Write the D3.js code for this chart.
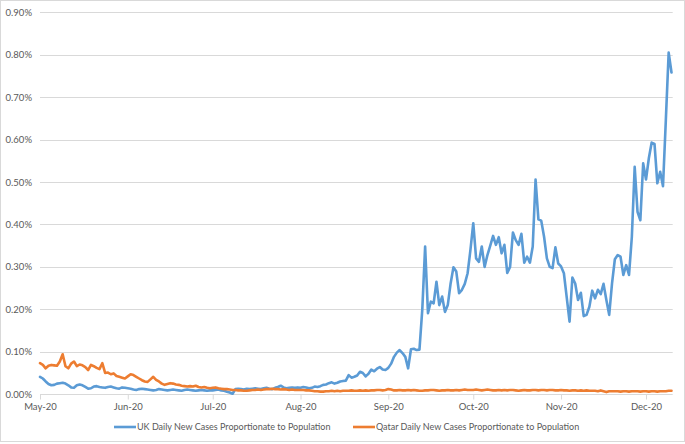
<!DOCTYPE html>
<html><head><meta charset="utf-8">
<script src="https://cdn.jsdelivr.net/npm/d3@7"></script>
<style>
html,body{margin:0;padding:0;background:#fff;}
svg{display:block;font-family:Lato,"Open Sans",sans-serif;}
</style></head>
<body><svg id="c" width="685" height="444"></svg>
<script>
// Start date of daily series
const startDate = "2020-05-01";
// UK daily new cases as % of population (May 1 .. Dec 10, 2020)
const ukValues = [
// May
0.041,0.037,0.030,0.024,0.021,0.022,0.025,0.026,0.027,0.025,0.021,0.016,0.015,0.021,0.023,0.021,0.017,0.013,0.014,0.018,0.019,0.017,0.016,0.015,0.017,0.018,0.016,0.014,0.013,0.016,0.015,
// Jun
0.014,0.013,0.011,0.010,0.012,0.013,0.012,0.011,0.010,0.009,0.010,0.012,0.011,0.010,0.009,0.010,0.011,0.010,0.009,0.008,0.010,0.011,0.010,0.009,0.008,0.009,0.010,0.009,0.008,0.009,
// Jul
0.009,0.010,0.011,0.009,0.008,0.006,0.004,0.001,0.012,0.013,0.012,0.011,0.013,0.012,0.013,0.014,0.013,0.012,0.014,0.015,0.013,0.012,0.015,0.017,0.020,0.016,0.014,0.015,0.016,0.015,0.016,
// Aug
0.015,0.017,0.016,0.014,0.015,0.018,0.017,0.019,0.022,0.023,0.026,0.028,0.025,0.027,0.030,0.031,0.032,0.045,0.039,0.041,0.044,0.053,0.050,0.042,0.048,0.058,0.054,0.060,0.064,0.058,0.057,
// Sep
0.062,0.072,0.088,0.098,0.104,0.097,0.088,0.061,0.106,0.107,0.104,0.105,0.200,0.348,0.191,0.218,0.214,0.265,0.210,0.230,0.194,0.210,0.261,0.299,0.289,0.238,0.246,0.260,0.285,0.340,
// Oct
0.403,0.320,0.312,0.348,0.300,0.328,0.350,0.373,0.352,0.370,0.332,0.352,0.286,0.300,0.381,0.363,0.352,0.378,0.310,0.324,0.310,0.348,0.506,0.412,0.409,0.371,0.320,0.300,0.297,0.346,0.308,
// Nov
0.301,0.285,0.228,0.171,0.275,0.261,0.222,0.239,0.184,0.187,0.206,0.244,0.226,0.246,0.236,0.260,0.222,0.187,0.261,0.318,0.328,0.324,0.281,0.304,0.281,0.371,0.536,0.430,0.410,0.544,
// Dec
0.506,0.556,0.593,0.590,0.497,0.524,0.490,0.646,0.805,0.758
];
// Qatar daily new cases as % of population
const qatarValues = [
// May
0.073,0.069,0.061,0.067,0.069,0.068,0.067,0.077,0.094,0.066,0.061,0.072,0.077,0.066,0.070,0.068,0.064,0.057,0.069,0.066,0.062,0.059,0.073,0.050,0.051,0.047,0.049,0.043,0.041,0.039,0.037,
// Jun
0.042,0.047,0.045,0.041,0.037,0.033,0.030,0.029,0.035,0.041,0.034,0.030,0.025,0.022,0.024,0.026,0.025,0.023,0.022,0.020,0.019,0.018,0.019,0.018,0.020,0.017,0.016,0.017,0.015,0.014,
// Jul
0.015,0.016,0.014,0.013,0.012,0.012,0.011,0.010,0.010,0.009,0.009,0.008,0.008,0.009,0.010,0.010,0.011,0.010,0.011,0.012,0.012,0.013,0.012,0.012,0.011,0.012,0.011,0.010,0.011,0.010,0.010,
// Aug
0.010,0.010,0.009,0.009,0.008,0.007,0.007,0.006,0.006,0.007,0.007,0.008,0.007,0.008,0.007,0.008,0.008,0.008,0.009,0.008,0.008,0.009,0.008,0.009,0.008,0.009,0.009,0.010,0.010,0.009,0.010,
// Sep
0.012,0.011,0.009,0.009,0.010,0.009,0.009,0.010,0.009,0.010,0.009,0.008,0.008,0.009,0.009,0.010,0.010,0.009,0.008,0.009,0.009,0.010,0.009,0.009,0.010,0.009,0.010,0.011,0.010,0.010,
// Oct
0.010,0.011,0.010,0.009,0.010,0.011,0.010,0.009,0.009,0.010,0.009,0.010,0.009,0.010,0.010,0.009,0.008,0.009,0.010,0.009,0.009,0.010,0.010,0.009,0.010,0.010,0.009,0.010,0.010,0.009,0.009,
// Nov
0.010,0.009,0.009,0.008,0.009,0.009,0.008,0.009,0.008,0.009,0.008,0.008,0.008,0.007,0.009,0.007,0.005,0.007,0.007,0.007,0.007,0.006,0.007,0.007,0.006,0.007,0.007,0.007,0.006,0.007,
// Dec
0.007,0.006,0.007,0.007,0.006,0.007,0.007,0.007,0.008,0.008
];
const seriesNames = ["UK Daily New Cases Proportionate to Population","Qatar Daily New Cases Proportionate to Population"];
const seriesColors = ["#5b9bd5","#ed7d31"];
const yTicks = [0,0.1,0.2,0.3,0.4,0.5,0.6,0.7,0.8,0.9];
const xTickDates = ["2020-05-01","2020-06-01","2020-07-01","2020-08-01","2020-09-01","2020-10-01","2020-11-01","2020-12-01"];
const xTickLabels = ["May-20","Jun-20","Jul-20","Aug-20","Sep-20","Oct-20","Nov-20","Dec-20"];

const parse = d3.utcParse("%Y-%m-%d");
const t0 = parse(startDate);
const dates = ukValues.map((_, i) => d3.utcDay.offset(t0, i));

const svg = d3.select("#c");
const W = 685, H = 444;
const L = 40, R = 671.5, T = 12.3, B = 394.2;

svg.append("rect").attr("x",0.5).attr("y",0.5).attr("width",W-1).attr("height",H-3)
  .attr("fill","#fff").attr("stroke","#d9d9d9");

const x = d3.scaleUtc().domain([dates[0], dates[dates.length-1]]).range([L, R]);
const y = d3.scaleLinear().domain([0, 0.9]).range([B, T]);

// gridlines
svg.append("g").selectAll("line").data(yTicks.filter(v => v > 0)).join("line")
  .attr("x1", L).attr("x2", 672.7)
  .attr("y1", d => Math.round(y(d)) + 0.5).attr("y2", d => Math.round(y(d)) + 0.5)
  .attr("stroke","#d9d9d9").attr("stroke-width",1);

// y axis labels
const yAxis = d3.axisLeft(y).tickValues(yTicks).tickFormat(d => d.toFixed(2) + "%").tickSize(0).tickPadding(8);
const gy = svg.append("g").attr("transform", `translate(${L},0)`).call(yAxis);
gy.select(".domain").remove();
gy.selectAll("text").attr("fill","#595959").style("font-size","9.5px").style("font-family","Lato, sans-serif");

// x axis
const xAxis = d3.axisBottom(x).tickValues(xTickDates.map(parse))
  .tickFormat((d, i) => xTickLabels[i]).tickSize(5).tickSizeOuter(0).tickPadding(4);
const gx = svg.append("g").attr("transform", `translate(0,${Math.round(B)+0.5})`).call(xAxis);
gx.select(".domain").attr("d", `M${L},0H672.7`).attr("stroke","#d9d9d9");
gx.selectAll(".tick line").attr("stroke","#d9d9d9");
gx.selectAll("text").attr("fill","#595959").style("font-size","9.5px").style("font-family","Lato, sans-serif");

// lines
const line = d3.line().x((d, i) => x(dates[i])).y(d => y(d));
[ukValues, qatarValues].forEach((vals, k) => {
  svg.append("path").datum(vals).attr("d", line)
    .attr("fill","none").attr("stroke", seriesColors[k]).attr("stroke-width",2.6)
    .attr("stroke-linejoin","round").attr("stroke-linecap","round");
});

// legend
const legendX = [114, 353];
const lg = svg.append("g").attr("transform","translate(0,427)");
seriesNames.forEach((name, k) => {
  lg.append("line").attr("x1", legendX[k]).attr("x2", legendX[k] + 22).attr("y1",0).attr("y2",0)
    .attr("stroke", seriesColors[k]).attr("stroke-width",2.6);
  lg.append("text").attr("x", legendX[k] + 23).attr("y", 0).attr("dy","0.35em")
    .attr("fill","#595959").style("font-size","9px").style("font-family","Lato, sans-serif").text(name);
});
</script></body></html>
